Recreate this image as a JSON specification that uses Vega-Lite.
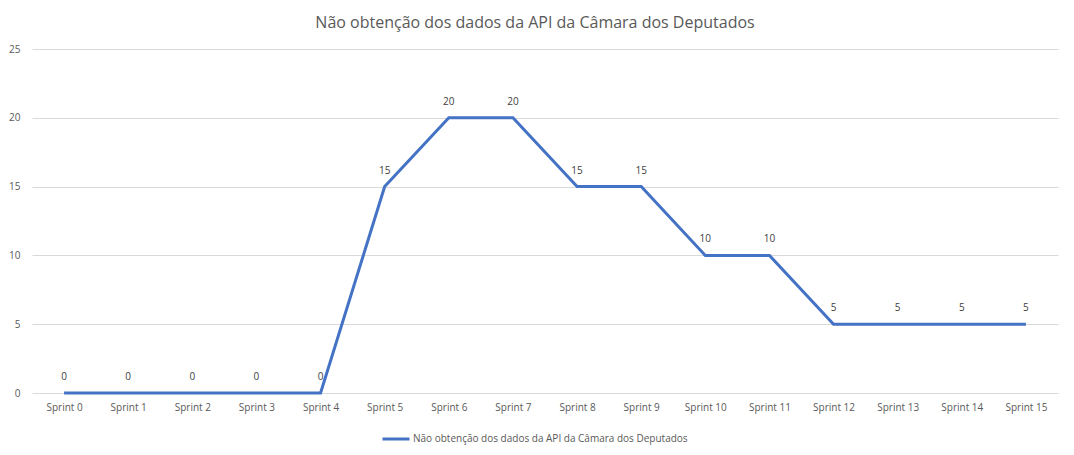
{
  "$schema": "https://vega.github.io/schema/vega-lite/v6.json",
  "width": 1026,
  "height": 344,
  "autosize": {"type": "none"},
  "padding": {"left": 32, "top": 49, "right": 16, "bottom": 62},
  "background": "white",
  "title": {
    "text": "Não obtenção dos dados da API da Câmara dos Deputados",
    "font": "Open Sans",
    "fontSize": 16,
    "fontWeight": "normal",
    "color": "#595959",
    "anchor": "middle",
    "offset": 13,
    "dx": -10
  },
  "data": {
    "values": [
      {"sprint": "Sprint 0", "valor": 0, "serie": "Não obtenção dos dados da API da Câmara dos Deputados"},
      {"sprint": "Sprint 1", "valor": 0, "serie": "Não obtenção dos dados da API da Câmara dos Deputados"},
      {"sprint": "Sprint 2", "valor": 0, "serie": "Não obtenção dos dados da API da Câmara dos Deputados"},
      {"sprint": "Sprint 3", "valor": 0, "serie": "Não obtenção dos dados da API da Câmara dos Deputados"},
      {"sprint": "Sprint 4", "valor": 0, "serie": "Não obtenção dos dados da API da Câmara dos Deputados"},
      {"sprint": "Sprint 5", "valor": 15, "serie": "Não obtenção dos dados da API da Câmara dos Deputados"},
      {"sprint": "Sprint 6", "valor": 20, "serie": "Não obtenção dos dados da API da Câmara dos Deputados"},
      {"sprint": "Sprint 7", "valor": 20, "serie": "Não obtenção dos dados da API da Câmara dos Deputados"},
      {"sprint": "Sprint 8", "valor": 15, "serie": "Não obtenção dos dados da API da Câmara dos Deputados"},
      {"sprint": "Sprint 9", "valor": 15, "serie": "Não obtenção dos dados da API da Câmara dos Deputados"},
      {"sprint": "Sprint 10", "valor": 10, "serie": "Não obtenção dos dados da API da Câmara dos Deputados"},
      {"sprint": "Sprint 11", "valor": 10, "serie": "Não obtenção dos dados da API da Câmara dos Deputados"},
      {"sprint": "Sprint 12", "valor": 5, "serie": "Não obtenção dos dados da API da Câmara dos Deputados"},
      {"sprint": "Sprint 13", "valor": 5, "serie": "Não obtenção dos dados da API da Câmara dos Deputados"},
      {"sprint": "Sprint 14", "valor": 5, "serie": "Não obtenção dos dados da API da Câmara dos Deputados"},
      {"sprint": "Sprint 15", "valor": 5, "serie": "Não obtenção dos dados da API da Câmara dos Deputados"}
    ]
  },
  "encoding": {
    "x": {
      "field": "sprint",
      "type": "ordinal",
      "sort": null,
      "scale": {"paddingInner": 0, "paddingOuter": 0, "align": 0.5},
      "axis": {
        "title": null,
        "labelAngle": 0,
        "labelFont": "Open Sans",
        "labelFontSize": 10,
        "labelColor": "#595959",
        "labelPadding": 9,
        "ticks": false,
        "domain": false,
        "grid": false
      }
    },
    "y": {
      "field": "valor",
      "type": "quantitative",
      "scale": {"domain": [0, 25]},
      "axis": {
        "title": null,
        "values": [0, 5, 10, 15, 20, 25],
        "labelFont": "Open Sans",
        "labelFontSize": 10,
        "labelColor": "#595959",
        "labelPadding": 12,
        "ticks": false,
        "domain": false,
        "grid": true,
        "gridColor": "#d9d9d9",
        "gridWidth": 1
      }
    }
  },
  "layer": [
    {
      "mark": {"type": "line", "strokeWidth": 3, "color": "#4472C4"},
      "encoding": {
        "color": {
          "field": "serie",
          "type": "nominal",
          "scale": {"range": ["#4472C4"]},
          "legend": {
            "title": null,
            "orient": "none",
            "legendX": 349,
            "legendY": 375,
            "symbolType": "stroke",
            "symbolSize": 729,
            "symbolStrokeWidth": 3,
            "labelFont": "Open Sans",
            "labelFontSize": 10,
            "labelColor": "#595959",
            "labelOffset": 2,
            "labelLimit": 0
          }
        }
      }
    },
    {
      "mark": {"type": "text", "dy": -16, "font": "Open Sans", "fontSize": 10, "color": "#404040"},
      "encoding": {"text": {"field": "valor", "type": "quantitative"}}
    }
  ],
  "config": {"view": {"stroke": null}}
}
